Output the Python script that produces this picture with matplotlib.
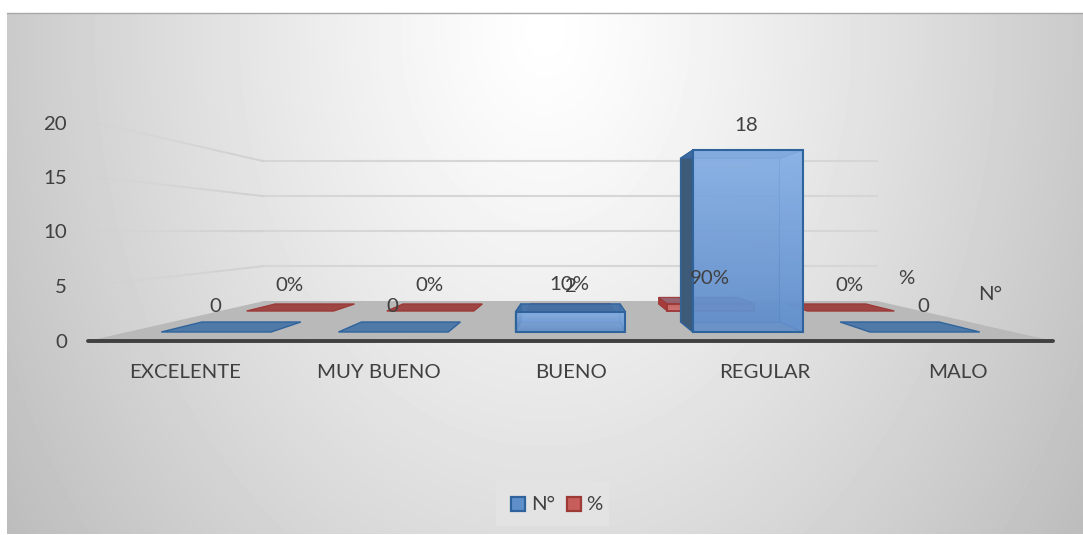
import numpy as np
import matplotlib
matplotlib.use("Agg")
import matplotlib.pyplot as plt
from matplotlib.patches import Polygon, Rectangle
from matplotlib.collections import LineCollection
from matplotlib.colors import LinearSegmentedColormap

categories = ["EXCELENTE", "MUY BUENO", "BUENO", "REGULAR", "MALO"]
n_vals = [0, 0, 2, 18, 0]
pct_vals = [0, 0, 0.1, 0.9, 0]
pct_labels = ["0%", "0%", "10%", "90%", "0%"]
yticks = [0, 5, 10, 15, 20]

plt.rcParams['font.family'] = ['Lato', 'DejaVu Sans']
TXT = "#404040"
FS = 14.7

# fake 3d: everything goes through this, floor_y = where on the floor the point sits
X0, X1, Y_FRONT, Y_BACK = 88, 1053, 341, 301
XC = (X0 + X1) / 2
CAT_W = (X1 - X0) / len(categories)
K = 11.0
S_BACK = 0.635


def scale(floor_y):
    return 1 - (Y_FRONT - floor_y) * (1 - S_BACK) / (Y_FRONT - Y_BACK)


def proj(x, v, floor_y):
    s = scale(floor_y)
    return (XC + (X0 + x * CAT_W - XC) * s, floor_y - v * K * s)


fig = plt.figure(figsize=(10.83, 5.35), dpi=100)
ax = fig.add_axes([0, 0, 1, 1])
ax.set_xlim(0, 1083)
ax.set_ylim(535, 0)
ax.axis("off")

# background
yy, xx = np.mgrid[13:534, 7:1083]
r = np.sqrt(((xx - 545) / 530.0) ** 2 + ((yy - 30) / 720.0) ** 2)
bg = 255 - 52 * r ** 1.2
ax.imshow(bg, cmap="gray", vmin=0, vmax=255, extent=(7, 1083, 534, 13), aspect="auto", zorder=0,
          interpolation="bilinear")
ax.plot([7, 1083], [13, 13], color="#a8a8a8", lw=1, zorder=1)

# floor
ax.add_patch(Polygon([proj(0, 0, Y_FRONT), proj(len(categories), 0, Y_FRONT),
                      proj(len(categories), 0, Y_BACK), proj(0, 0, Y_BACK)],
                     fc="#b9b9b9", ec="none", zorder=2))

# gridlines, left wall fades out towards the front
for v in yticks[1:]:
    ax.plot(*zip(proj(0, v, Y_BACK), proj(len(categories), v, Y_BACK)), color="#d6d6d6", lw=1.5, zorder=2)
    a = np.array(proj(0, v, Y_FRONT))
    b = np.array(proj(0, v, Y_BACK))
    ts = np.linspace(0.05, 1, 40)
    pts = a + np.outer(ts, b - a)
    segs = np.stack([pts[:-1], pts[1:]], axis=1)
    lc = LineCollection(segs, colors=[(0.82, 0.82, 0.82, min(t * 1.2, 1)) for t in ts[:-1]], linewidths=1.4,
                        capstyle="butt", zorder=2)
    ax.add_collection(lc)

ax.plot([X0, X1], [Y_FRONT, Y_FRONT], color="#404040", lw=2.8, zorder=3, solid_capstyle="round")


def bar(i, v, y_f, y_b, edge, flat, side, top, grad, zstart):
    w = 0.31
    c = i + 0.5
    fl, fr = c - w, c + w
    z = zstart
    if v == 0:
        ax.add_patch(Polygon([proj(fl, 0, y_f), proj(fr, 0, y_f), proj(fr, 0, y_b), proj(fl, 0, y_b)],
                             fc=flat, ec=edge, lw=1.0, zorder=z))
        return
    thin = min(1, v)  # very short bars should not get a thick outline
    ax.add_patch(Polygon([proj(fl, 0, y_b), proj(fr, 0, y_b), proj(fr, v, y_b), proj(fl, v, y_b)],
                         fc=grad[1], ec=edge, lw=0.8 * thin, alpha=0.55, zorder=z))
    lside = [proj(fl, 0, y_f), proj(fl, 0, y_b), proj(fl, v, y_b), proj(fl, v, y_f)]
    rside = [proj(fr, 0, y_f), proj(fr, 0, y_b), proj(fr, v, y_b), proj(fr, v, y_f)]
    ax.add_patch(Polygon(rside, fc=grad[0], ec=edge, lw=0.8 * thin, alpha=0.8, zorder=z + 0.1))
    ax.add_patch(Polygon(lside, fc=side, ec=edge, lw=1.0 * thin, zorder=z + 0.1))
    ax.add_patch(Polygon([proj(fl, v, y_f), proj(fr, v, y_f), proj(fr, v, y_b), proj(fl, v, y_b)],
                         fc=top, ec=edge, lw=1.0 * thin, alpha=0.85, zorder=z + 0.2))
    x0, y0 = proj(fl, v, y_f)
    x1, y1 = proj(fr, 0, y_f)
    cmap = LinearSegmentedColormap.from_list("f", grad)
    im = ax.imshow(np.linspace(0, 1, 64).reshape(-1, 1), cmap=cmap, extent=(x0, x1, y1, y0), aspect="auto",
                   alpha=0.88, zorder=z + 0.3)
    rect = Rectangle((x0, y0), x1 - x0, y1 - y0, fc="none", ec=edge, lw=1.5 * thin, zorder=z + 0.4)
    ax.add_patch(rect)
    im.set_clip_path(rect)
    ax.set_xlim(0, 1083)
    ax.set_ylim(535, 0)


# red row first, blue row sits in front of it
for i, v in enumerate(pct_vals):
    bar(i, v, 311, 304, "#9c3a38", "#9e4644", "#a83c3a", "#8c5a6a", ["#c85a58", "#d06a68"], 4 + i)
for i, v in enumerate(n_vals):
    bar(i, v, 332, 322, "#2f639c", "#4f7aa8", "#3d5a78", "#3f6ea6", ["#8ab2e6", "#5f8dca"], 10 + i)

# data labels
for i, v in enumerate(n_vals):
    x, y = proj(i + 0.5, v, 332)
    ax.text(x - 1, y - 25, str(v), ha="center", va="center", fontsize=FS, color=TXT, zorder=30)
for i, v in enumerate(pct_vals):
    x, y = proj(i + 0.5, v, 311)
    ax.text(x - 1, y - 25.5, pct_labels[i], ha="center", va="center", fontsize=FS, color=TXT, zorder=30)

# axis text
for v in yticks:
    ax.text(67, 342 - v * 10.9, str(v), ha="right", va="center", fontsize=FS, color=TXT, zorder=30)
for i, c in enumerate(categories):
    ax.text(X0 + (i + 0.5) * CAT_W + 1, 372, c, ha="center", va="center", fontsize=FS, color=TXT, zorder=30)
ax.text(990, 295, "N°", ha="center", va="center", fontsize=FS, color=TXT, zorder=30)
ax.text(906, 278, "%", ha="center", va="center", fontsize=FS, color=TXT, zorder=30)

# legend
ax.add_patch(Rectangle((496, 481), 113, 45, fc="#e3e3e3", ec="none", zorder=20))
ax.add_patch(Rectangle((511, 497), 14, 14, fc="#5f8fca", ec="#2f639c", lw=1.6, zorder=21))
ax.add_patch(Rectangle((567, 497), 14, 14, fc="#c85e5c", ec="#9c3a38", lw=1.6, zorder=21))
ax.text(531, 504, "N°", ha="left", va="center", fontsize=FS, color=TXT, zorder=30)
ax.text(586, 504, "%", ha="left", va="center", fontsize=FS, color=TXT, zorder=30)

fig.savefig("out.png", dpi=100)
